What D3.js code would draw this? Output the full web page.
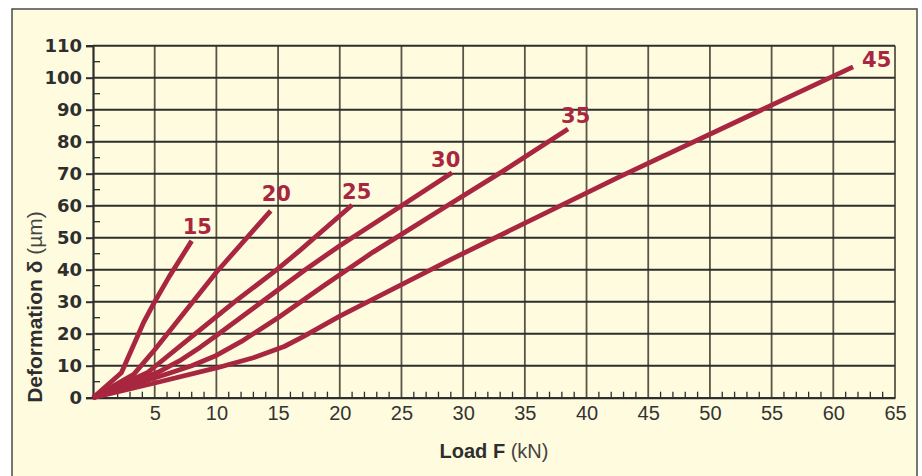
<!DOCTYPE html>
<html>
<head>
<meta charset="utf-8">
<script src="https://cdn.jsdelivr.net/npm/d3@7/dist/d3.min.js"></script>
<style>
  html, body { margin: 0; padding: 0; background: #ffffff; }
  svg { display: block; }
</style>
</head>
<body>
<svg id="chart" width="922" height="476"></svg>
<script>
// ---- data ----
const xTicks = [5, 10, 15, 20, 25, 30, 35, 40, 45, 50, 55, 60, 65];
const yTicks = [0, 10, 20, 30, 40, 50, 60, 70, 80, 90, 100, 110];
const seriesNames = ["15", "20", "25", "30", "35", "45"];
const s15 = [[0,0],[2.3,7.8],[4.1,23.5],[5,30],[6.2,38],[8,49]];
const s20 = [[0,0],[3.3,7.3],[5,15],[10,39.2],[14.4,58.4]];
const s25 = [[0,0],[4.4,7.8],[8.3,20],[11.5,30],[14.9,40],[16.8,46.1],[21,60.2]];
const s30 = [[0,0],[5.3,8],[7,11.5],[8.7,15.8],[10.2,20],[13.7,30],[17.2,40],[20,47.5],[25,60],[29.1,70.3]];
const s35 = [[0,0],[6.3,7.8],[8,10],[10,13.2],[12,17.5],[15,25],[18.7,35],[22.7,45.5],[28.7,60],[33.1,70.5],[38.5,84]];
const s45 = [[0,0],[5,4.6],[10,9.3],[13,12.5],[15.5,16],[17,19],[20,25.5],[28.9,43],[42.7,69.1],[61.6,103.4]];
const seriesValues = [s15, s20, s25, s30, s35, s45];

// ---- label offsets (px, relative to series end point) ----
const labelOffsets = [[-9,-7],[-9,-10],[-10,-6],[-21,-6],[-7,-6],[9,0]];

// ---- layout ----
const svg = d3.select("#chart");
const lineColor = "#a8263f";
const x = d3.scaleLinear().domain([0, 65]).range([93, 895]);
const y = d3.scaleLinear().domain([0, 110]).range([397.7, 45.7]);

// frame
svg.append("rect")
  .attr("x", 12).attr("y", 9).attr("width", 905).attr("height", 480)
  .attr("fill", "#fefbdf").attr("stroke", "#4a4a4a").attr("stroke-width", 1.5);

// vertical grid
svg.append("g").selectAll("line").data(xTicks).join("line")
  .attr("x1", d => x(d)).attr("x2", d => x(d))
  .attr("y1", y(0)).attr("y2", y(110))
  .attr("stroke", "#5a5546").attr("stroke-width", 1.8);

// horizontal grid
svg.append("g").selectAll("line").data(yTicks.filter(d => d > 0)).join("line")
  .attr("x1", x(0)).attr("x2", x(65))
  .attr("y1", d => y(d)).attr("y2", d => y(d))
  .attr("stroke", "#2e2e2e").attr("stroke-width", 2);

// minor ticks bottom (every 1 kN), inward
const minorX = d3.range(1, 65).filter(d => d % 5 !== 0);
svg.append("g").selectAll("line").data(minorX).join("line")
  .attr("x1", d => x(d)).attr("x2", d => x(d))
  .attr("y1", y(0)).attr("y2", y(0) - 6)
  .attr("stroke", "#2e2e2e").attr("stroke-width", 1.3);

// minor ticks left (every 5 um), inward
const minorY = d3.range(5, 110, 10);
svg.append("g").selectAll("line").data(minorY).join("line")
  .attr("x1", x(0)).attr("x2", x(0) + 7)
  .attr("y1", d => y(d)).attr("y2", d => y(d))
  .attr("stroke", "#2e2e2e").attr("stroke-width", 1.3);

// left axis
const yAxis = d3.axisLeft(y).tickValues(yTicks).tickSize(7).tickPadding(4);
const gy = svg.append("g").attr("transform", `translate(${x(0)},0)`).call(yAxis);
gy.select(".domain").attr("stroke", "#2e2e2e").attr("stroke-width", 2.2);
gy.selectAll(".tick line").attr("stroke", "#2e2e2e").attr("stroke-width", 2);
gy.selectAll(".tick text")
  .attr("font-family", "DejaVu Sans, sans-serif").attr("font-weight", "bold")
  .attr("font-size", 18).attr("fill", "#2e2e2e");

// bottom axis
const xAxis = d3.axisBottom(x).tickValues(xTicks).tickSize(0).tickPadding(8);
const gx = svg.append("g").attr("transform", `translate(0,${y(0)})`).call(xAxis);
gx.select(".domain").attr("stroke", "#2e2e2e").attr("stroke-width", 2.2);
gx.selectAll(".tick text")
  .attr("font-family", "Liberation Sans, Arial, sans-serif")
  .attr("font-size", 20).attr("fill", "#333");

// lines
const line = d3.line().x(d => x(d[0])).y(d => y(d[1]));
svg.append("g").selectAll("path").data(seriesValues).join("path")
  .attr("d", line)
  .attr("fill", "none").attr("stroke", lineColor).attr("stroke-width", 4.8)
  .attr("stroke-linejoin", "round").attr("stroke-linecap", "butt");

// series labels
svg.append("g").selectAll("text").data(seriesValues).join("text")
  .attr("x", (d, i) => x(d[d.length - 1][0]) + labelOffsets[i][0])
  .attr("y", (d, i) => y(d[d.length - 1][1]) + labelOffsets[i][1])
  .attr("font-family", "DejaVu Sans, sans-serif").attr("font-weight", "bold")
  .attr("font-size", 21).attr("fill", lineColor)
  .text((d, i) => seriesNames[i]);

// axis titles
const xt = svg.append("text")
  .attr("x", (x(0) + x(65)) / 2).attr("y", 458)
  .attr("text-anchor", "middle")
  .attr("font-family", "Liberation Sans, Arial, sans-serif")
  .attr("font-size", 20).attr("fill", "#2e2e2e");
xt.append("tspan").attr("font-weight", "bold").text("Load F ");
xt.append("tspan").attr("fill", "#444").text("(kN)");

const yt = svg.append("text")
  .attr("transform", "translate(42,307) rotate(-90)")
  .attr("text-anchor", "middle")
  .attr("font-family", "Liberation Sans, Arial, sans-serif")
  .attr("font-size", 21).attr("fill", "#2e2e2e");
yt.append("tspan").attr("font-weight", "bold").text("Deformation δ ");
yt.append("tspan").attr("fill", "#444").text("(µm)");
</script>
</body>
</html>
